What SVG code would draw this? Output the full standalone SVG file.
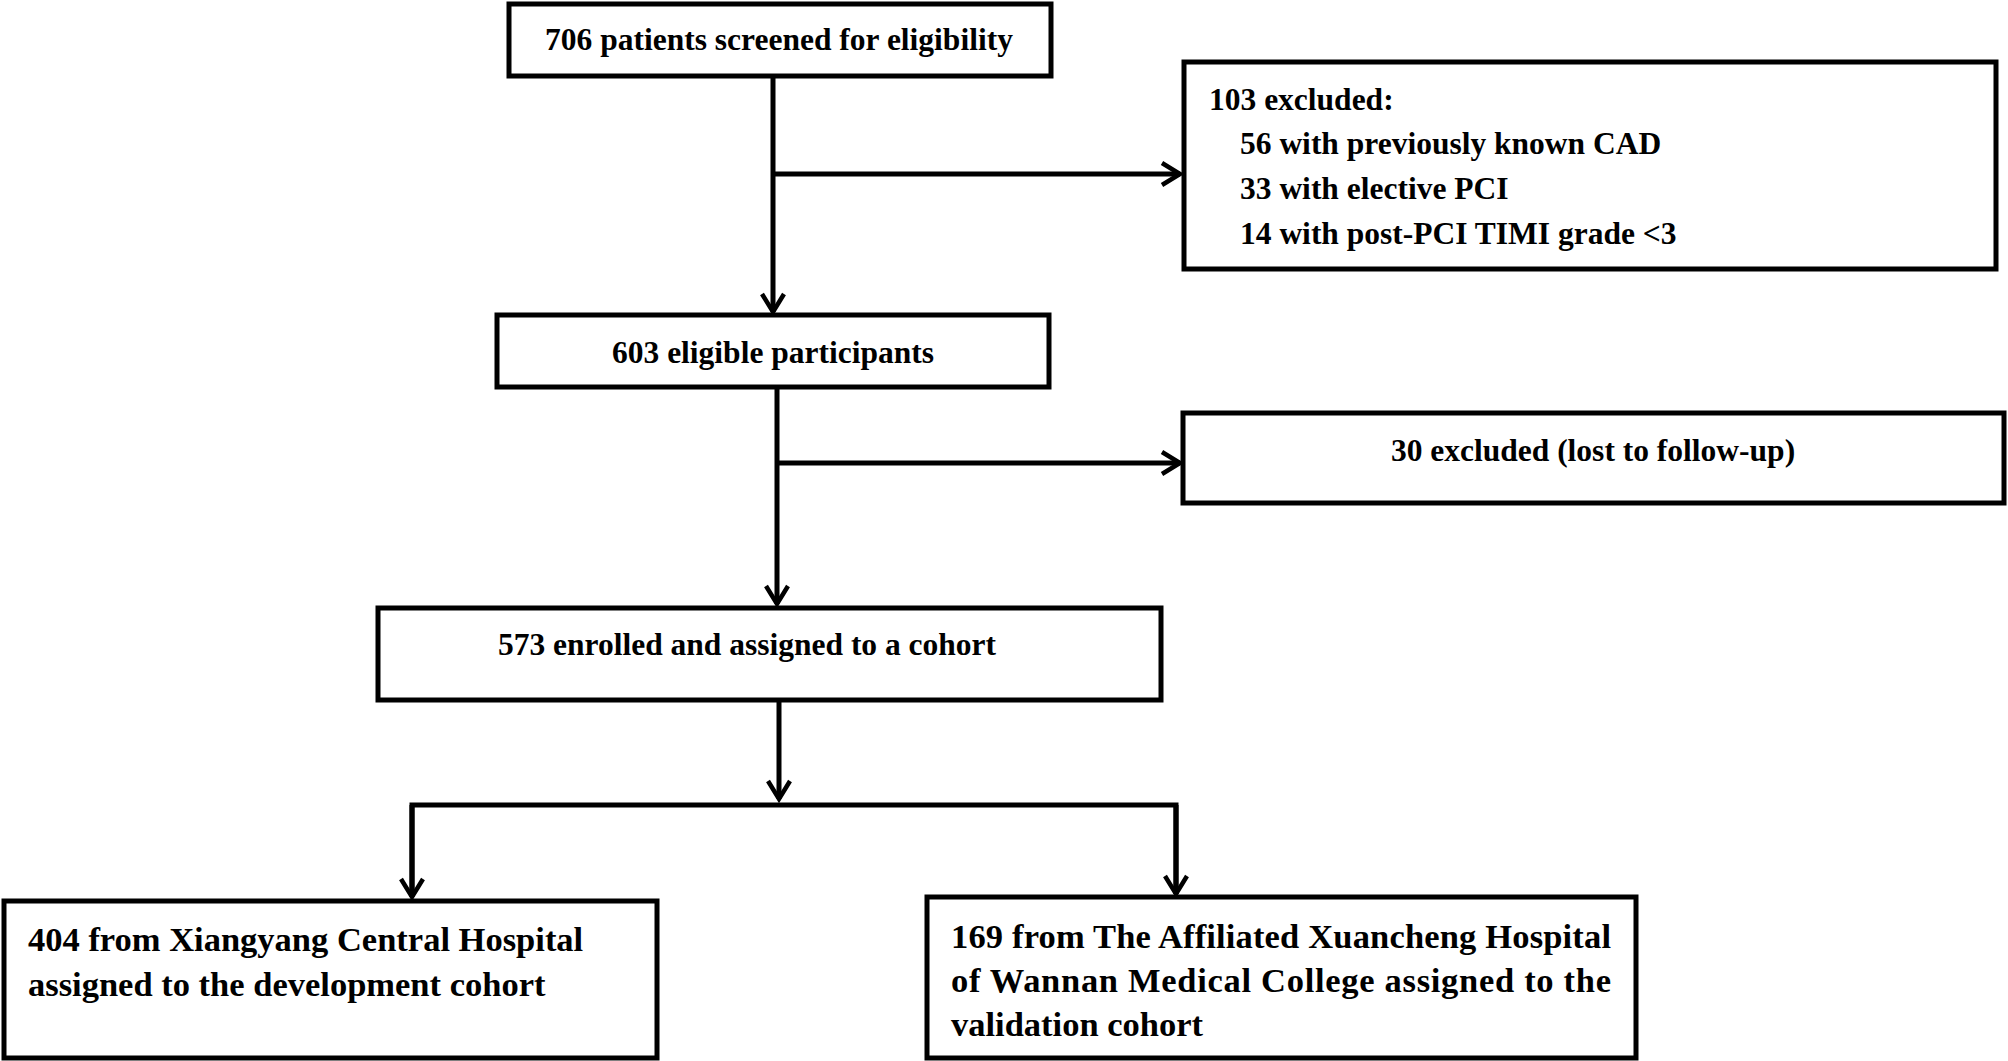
<svg xmlns="http://www.w3.org/2000/svg" width="2008" height="1061" viewBox="0 0 2008 1061">
<style>
.box{fill:#fff;stroke:#000;stroke-width:5}
.t{font-family:"Liberation Serif","Times New Roman",serif;font-weight:bold;font-size:31.5px;fill:#000}
.b{font-size:34.5px}
.c{text-anchor:middle}
.ln{fill:none;stroke:#000;stroke-width:5}
</style>
<defs>
<marker id="arr" viewBox="-22 -14 26 28" refX="0" refY="0" markerWidth="26" markerHeight="28" markerUnits="userSpaceOnUse" orient="auto" overflow="visible">
<path d="M-18,-11 L0,0 L-18,11" fill="none" stroke="#000" stroke-width="4.5"/>
</marker>
</defs>
<rect width="2008" height="1061" fill="#fff"/>
<g id="connectors">
<line class="ln" x1="773" y1="76" x2="773" y2="312" marker-end="url(#arr)"/>
<line class="ln" x1="773" y1="174" x2="1180" y2="174" marker-end="url(#arr)"/>
<line class="ln" x1="777" y1="387" x2="777" y2="604" marker-end="url(#arr)"/>
<line class="ln" x1="777" y1="463" x2="1180" y2="463" marker-end="url(#arr)"/>
<line class="ln" x1="779" y1="700" x2="779" y2="799" marker-end="url(#arr)"/>
<polyline class="ln" points="412,896 412,805 1176,805 1176,894"/>
<line class="ln" x1="412" y1="805" x2="412" y2="897" marker-end="url(#arr)"/>
<line class="ln" x1="1176" y1="805" x2="1176" y2="894" marker-end="url(#arr)"/>
</g>
<g id="n1">
<rect class="box" x="509" y="4" width="542" height="72"/>
<text class="t c" x="779" y="50">706 patients screened for eligibility</text>
</g>
<g id="n2">
<rect class="box" x="1184" y="62" width="812" height="207"/>
<text class="t" x="1209" y="110">103 excluded:</text>
<text class="t" x="1240" y="154">56 with previously known CAD</text>
<text class="t" x="1240" y="199">33 with elective PCI</text>
<text class="t" x="1240" y="244">14 with post-PCI TIMI grade &lt;3</text>
</g>
<g id="n3">
<rect class="box" x="497" y="315" width="552" height="72"/>
<text class="t c" x="773" y="363">603 eligible participants</text>
</g>
<g id="n4">
<rect class="box" x="1183" y="413" width="821" height="90"/>
<text class="t c" x="1593" y="461">30 excluded (lost to follow-up)</text>
</g>
<g id="n5">
<rect class="box" x="378" y="608" width="783" height="92"/>
<text class="t c" x="747" y="655">573 enrolled and assigned to a cohort</text>
</g>
<g id="n6">
<rect class="box" x="4" y="901" width="653" height="157"/>
<text class="t b" x="28" y="951">404 from Xiangyang Central Hospital</text>
<text class="t b" x="28" y="996">assigned to the development cohort</text>
</g>
<g id="n7">
<rect class="box" x="927" y="897" width="709" height="161"/>
<text class="t b" x="951" y="948" textLength="660" lengthAdjust="spacing">169 from The Affiliated Xuancheng Hospital</text>
<text class="t b" x="951" y="992" textLength="660" lengthAdjust="spacing">of Wannan Medical College assigned to the</text>
<text class="t b" x="951" y="1036">validation cohort</text>
</g>
</svg>
